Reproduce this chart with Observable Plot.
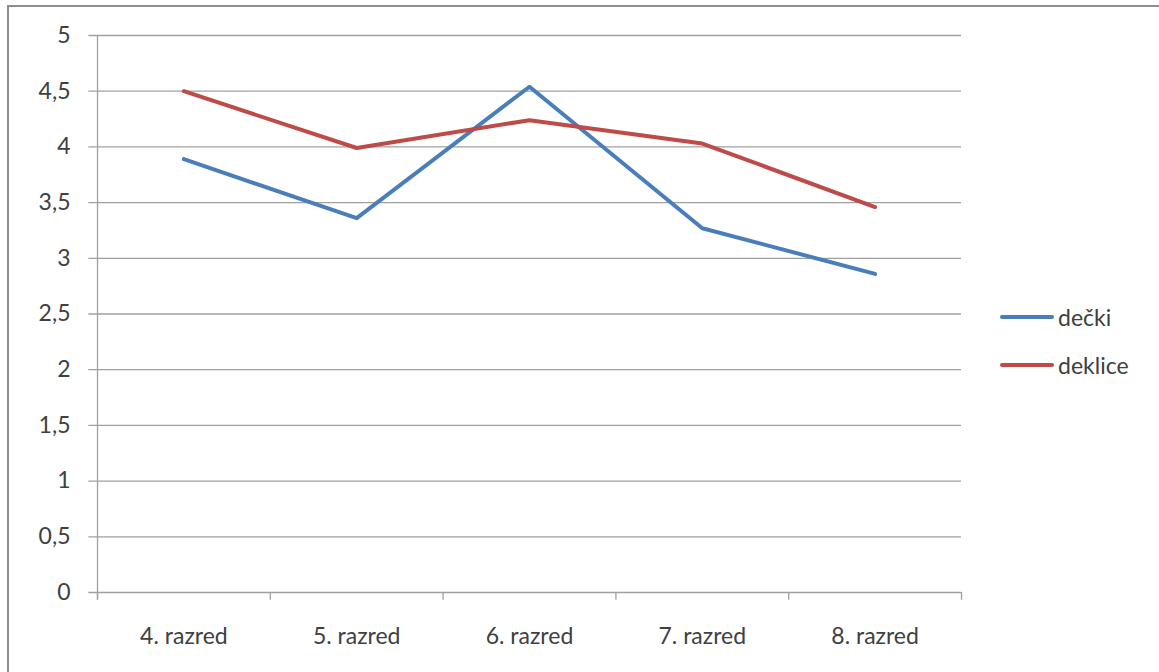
<!DOCTYPE html>
<html>
<head>
<meta charset="utf-8">
<script src="https://cdn.jsdelivr.net/npm/d3@7"></script>
<script src="https://cdn.jsdelivr.net/npm/@observablehq/plot@0.6"></script>
<style>
  html, body { margin: 0; padding: 0; background: #ffffff; }
  #wrap { position: relative; width: 1159px; height: 672px; overflow: hidden; font-family: Lato, "Open Sans", sans-serif; }
  #border { position: absolute; left: 7px; top: 5px; width: 1200px; height: 700px; border-left: 2px solid #8e8e8e; border-top: 2px solid #8e8e8e; box-sizing: border-box; }
  #chart { position: absolute; left: 0; top: 0; }
  .legend { position: absolute; left: 1000px; font-size: 23px; color: #404040; display: flex; align-items: center; }
  .legend span.sw { display: inline-block; width: 54px; height: 4px; border-radius: 2px; margin-right: 4px; }
</style>
</head>
<body>
<div id="wrap">
  <div id="border"></div>
  <div id="chart"></div>
</div>
<script>
const categories = ["4. razred", "5. razred", "6. razred", "7. razred", "8. razred"];
const decki = [3.89, 3.36, 4.54, 3.27, 2.86];
const deklice = [4.50, 3.99, 4.24, 4.03, 3.46];
const seriesNames = ["dečki", "deklice"];
const seriesColors = ["#4a7ebb", "#be4b48"];
const yTicks = [0, 0.5, 1, 1.5, 2, 2.5, 3, 3.5, 4, 4.5, 5];

const rows = [];
[decki, deklice].forEach((vals, s) => {
  vals.forEach((v, i) => rows.push({series: seriesNames[s], idx: i + 0.5, value: v}));
});
const boundaries = d3.range(categories.length + 1);
const centers = categories.map((c, i) => i + 0.5);

const plot = Plot.plot({
  width: 1159,
  height: 672,
  marginLeft: 97,
  marginRight: 198,
  marginTop: 35,
  marginBottom: 80,
  style: {background: "transparent", fontFamily: "Lato, 'Open Sans', sans-serif", fontSize: "23px", color: "#404040"},
  x: {domain: [0, categories.length]},
  y: {domain: [0, 5]},
  color: {domain: seriesNames, range: seriesColors},
  marks: [
    Plot.gridY(yTicks, {stroke: "#a0a0a0", strokeOpacity: 1, strokeWidth: 1.3, x1: -0.05}),
    Plot.ruleX([0], {stroke: "#a0a0a0", strokeWidth: 1.3, y1: -0.07, y2: 5}),
    Plot.axisY(yTicks, {tickSize: 0, tickPadding: 27, tickFormat: d => String(d).replace(".", ","), fill: "#404040", fontSize: 23, label: null}),
    Plot.ruleX(boundaries, {x: d => d, y1: 0, y2: -0.07, stroke: "#a0a0a0", strokeWidth: 1.3}),
    Plot.axisX(centers, {tickSize: 0, tickPadding: 35, tickFormat: (d, i) => categories[i], fill: "#404040", fontSize: 23, label: null}),
    Plot.line(rows, {x: "idx", y: "value", z: "series", stroke: "series", strokeWidth: 4, strokeLinejoin: "round", strokeLinecap: "round"})
  ]
});
document.getElementById("chart").appendChild(plot);

const wrap = document.getElementById("wrap");
const legendTops = [303, 351];
seriesNames.forEach((n, i) => {
  const d = document.createElement("div");
  d.className = "legend";
  d.style.top = legendTops[i] + "px";
  d.innerHTML = `<span class="sw" style="background:${seriesColors[i]}"></span><span>${n}</span>`;
  wrap.appendChild(d);
});
</script>
</body>
</html>
